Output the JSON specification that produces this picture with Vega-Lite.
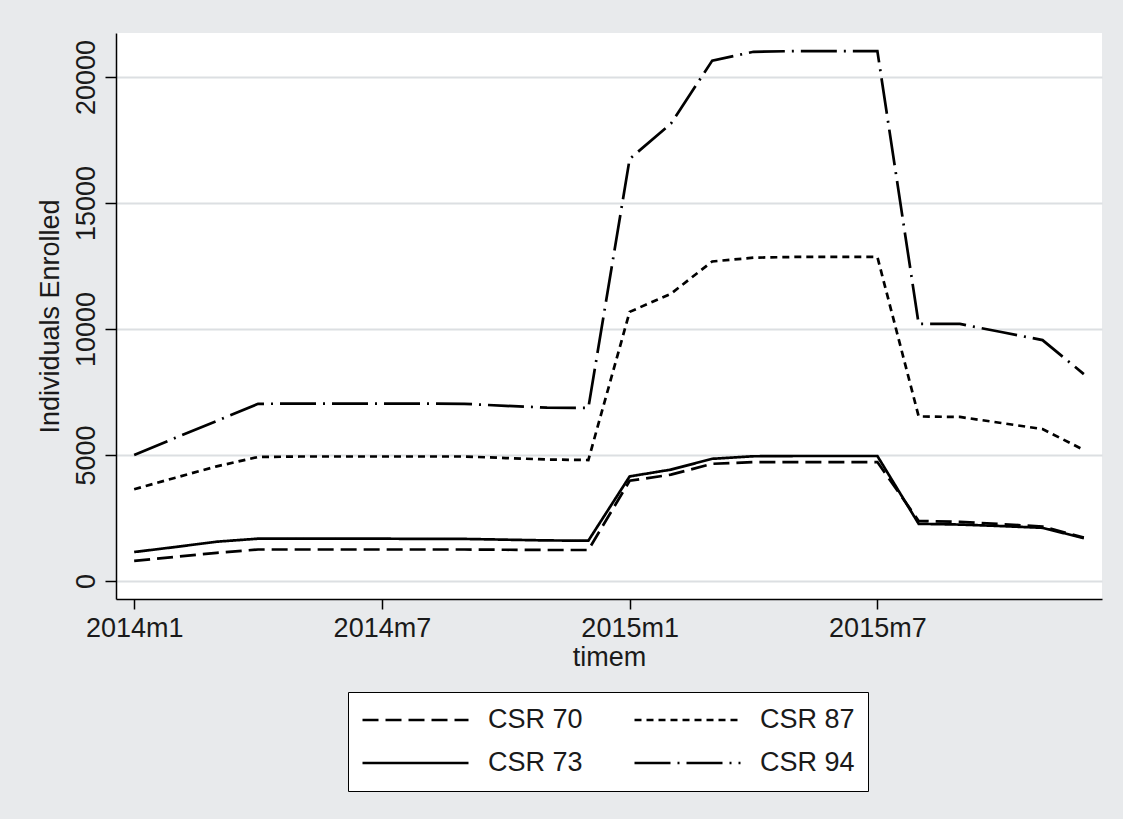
{
  "$schema": "https://vega.github.io/schema/vega-lite/v6.json",
  "width": 986,
  "height": 566,
  "autosize": {"type": "none"},
  "padding": {"left": 116, "top": 33, "right": 21, "bottom": 220},
  "background": "#e8eaec",
  "view": {"fill": "white", "stroke": null},
  "config": {"font": "Liberation Sans"},
  "data": {
    "values": [
      {"month": 0, "series": "CSR 70", "enrolled": 800},
      {"month": 1, "series": "CSR 70", "enrolled": 960},
      {"month": 2, "series": "CSR 70", "enrolled": 1120},
      {"month": 3, "series": "CSR 70", "enrolled": 1250},
      {"month": 4, "series": "CSR 70", "enrolled": 1250},
      {"month": 5, "series": "CSR 70", "enrolled": 1250},
      {"month": 6, "series": "CSR 70", "enrolled": 1250},
      {"month": 7, "series": "CSR 70", "enrolled": 1250},
      {"month": 8, "series": "CSR 70", "enrolled": 1250},
      {"month": 9, "series": "CSR 70", "enrolled": 1240},
      {"month": 10, "series": "CSR 70", "enrolled": 1230},
      {"month": 11, "series": "CSR 70", "enrolled": 1230},
      {"month": 12, "series": "CSR 70", "enrolled": 3980},
      {"month": 13, "series": "CSR 70", "enrolled": 4220},
      {"month": 14, "series": "CSR 70", "enrolled": 4650},
      {"month": 15, "series": "CSR 70", "enrolled": 4720},
      {"month": 16, "series": "CSR 70", "enrolled": 4720},
      {"month": 17, "series": "CSR 70", "enrolled": 4720},
      {"month": 18, "series": "CSR 70", "enrolled": 4720},
      {"month": 19, "series": "CSR 70", "enrolled": 2380},
      {"month": 20, "series": "CSR 70", "enrolled": 2350},
      {"month": 21, "series": "CSR 70", "enrolled": 2260},
      {"month": 22, "series": "CSR 70", "enrolled": 2160},
      {"month": 23, "series": "CSR 70", "enrolled": 1720},
      {"month": 0, "series": "CSR 87", "enrolled": 3640},
      {"month": 1, "series": "CSR 87", "enrolled": 4100},
      {"month": 2, "series": "CSR 87", "enrolled": 4550},
      {"month": 3, "series": "CSR 87", "enrolled": 4920},
      {"month": 4, "series": "CSR 87", "enrolled": 4940},
      {"month": 5, "series": "CSR 87", "enrolled": 4940},
      {"month": 6, "series": "CSR 87", "enrolled": 4940},
      {"month": 7, "series": "CSR 87", "enrolled": 4940},
      {"month": 8, "series": "CSR 87", "enrolled": 4940},
      {"month": 9, "series": "CSR 87", "enrolled": 4880},
      {"month": 10, "series": "CSR 87", "enrolled": 4820},
      {"month": 11, "series": "CSR 87", "enrolled": 4800},
      {"month": 12, "series": "CSR 87", "enrolled": 10680},
      {"month": 13, "series": "CSR 87", "enrolled": 11400},
      {"month": 14, "series": "CSR 87", "enrolled": 12680},
      {"month": 15, "series": "CSR 87", "enrolled": 12830},
      {"month": 16, "series": "CSR 87", "enrolled": 12860},
      {"month": 17, "series": "CSR 87", "enrolled": 12860},
      {"month": 18, "series": "CSR 87", "enrolled": 12860},
      {"month": 19, "series": "CSR 87", "enrolled": 6530},
      {"month": 20, "series": "CSR 87", "enrolled": 6510},
      {"month": 21, "series": "CSR 87", "enrolled": 6270},
      {"month": 22, "series": "CSR 87", "enrolled": 6030},
      {"month": 23, "series": "CSR 87", "enrolled": 5200},
      {"month": 0, "series": "CSR 73", "enrolled": 1150},
      {"month": 1, "series": "CSR 73", "enrolled": 1350},
      {"month": 2, "series": "CSR 73", "enrolled": 1560},
      {"month": 3, "series": "CSR 73", "enrolled": 1680},
      {"month": 4, "series": "CSR 73", "enrolled": 1680},
      {"month": 5, "series": "CSR 73", "enrolled": 1680},
      {"month": 6, "series": "CSR 73", "enrolled": 1680},
      {"month": 7, "series": "CSR 73", "enrolled": 1670},
      {"month": 8, "series": "CSR 73", "enrolled": 1670},
      {"month": 9, "series": "CSR 73", "enrolled": 1640},
      {"month": 10, "series": "CSR 73", "enrolled": 1610},
      {"month": 11, "series": "CSR 73", "enrolled": 1600},
      {"month": 12, "series": "CSR 73", "enrolled": 4150},
      {"month": 13, "series": "CSR 73", "enrolled": 4420},
      {"month": 14, "series": "CSR 73", "enrolled": 4850},
      {"month": 15, "series": "CSR 73", "enrolled": 4950},
      {"month": 16, "series": "CSR 73", "enrolled": 4960},
      {"month": 17, "series": "CSR 73", "enrolled": 4960},
      {"month": 18, "series": "CSR 73", "enrolled": 4960},
      {"month": 19, "series": "CSR 73", "enrolled": 2270},
      {"month": 20, "series": "CSR 73", "enrolled": 2240},
      {"month": 21, "series": "CSR 73", "enrolled": 2180},
      {"month": 22, "series": "CSR 73", "enrolled": 2110},
      {"month": 23, "series": "CSR 73", "enrolled": 1700},
      {"month": 0, "series": "CSR 94", "enrolled": 5000},
      {"month": 1, "series": "CSR 94", "enrolled": 5680},
      {"month": 2, "series": "CSR 94", "enrolled": 6350},
      {"month": 3, "series": "CSR 94", "enrolled": 7030},
      {"month": 4, "series": "CSR 94", "enrolled": 7040},
      {"month": 5, "series": "CSR 94", "enrolled": 7040},
      {"month": 6, "series": "CSR 94", "enrolled": 7040},
      {"month": 7, "series": "CSR 94", "enrolled": 7040},
      {"month": 8, "series": "CSR 94", "enrolled": 7030},
      {"month": 9, "series": "CSR 94", "enrolled": 6950},
      {"month": 10, "series": "CSR 94", "enrolled": 6880},
      {"month": 11, "series": "CSR 94", "enrolled": 6870},
      {"month": 12, "series": "CSR 94", "enrolled": 16750},
      {"month": 13, "series": "CSR 94", "enrolled": 18150},
      {"month": 14, "series": "CSR 94", "enrolled": 20650},
      {"month": 15, "series": "CSR 94", "enrolled": 21000},
      {"month": 16, "series": "CSR 94", "enrolled": 21030},
      {"month": 17, "series": "CSR 94", "enrolled": 21030},
      {"month": 18, "series": "CSR 94", "enrolled": 21030},
      {"month": 19, "series": "CSR 94", "enrolled": 10200},
      {"month": 20, "series": "CSR 94", "enrolled": 10200},
      {"month": 21, "series": "CSR 94", "enrolled": 9880},
      {"month": 22, "series": "CSR 94", "enrolled": 9560},
      {"month": 23, "series": "CSR 94", "enrolled": 8210}
    ]
  },
  "mark": {"type": "line", "color": "black", "strokeWidth": 2.7, "clip": true},
  "encoding": {
    "x": {
      "field": "month",
      "type": "quantitative",
      "scale": {"domain": [-0.44, 23.44], "nice": false, "zero": false},
      "axis": {
        "values": [0, 6, 12, 18],
        "labelExpr": "(2014 + floor(datum.value / 12)) + 'm' + (datum.value % 12 + 1)",
        "title": "timem",
        "grid": false,
        "domainColor": "black",
        "domainWidth": 1.5,
        "tickColor": "black",
        "tickWidth": 1.5,
        "tickSize": 10,
        "labelFontSize": 27,
        "labelColor": "#1a1a1a",
        "labelPadding": 6,
        "labelFlush": false,
        "titleFontSize": 27,
        "titleFontWeight": "normal",
        "titleColor": "#1a1a1a",
        "titlePadding": 3
      }
    },
    "y": {
      "field": "enrolled",
      "type": "quantitative",
      "scale": {"domain": [-714, 21746], "nice": false, "zero": false},
      "axis": {
        "values": [0, 5000, 10000, 15000, 20000],
        "format": "d",
        "title": "Individuals Enrolled",
        "grid": true,
        "gridColor": "#dcdfe2",
        "gridWidth": 2,
        "domainColor": "black",
        "domainWidth": 1.5,
        "tickColor": "black",
        "tickWidth": 1.5,
        "tickSize": 11,
        "labelAngle": -90,
        "labelAlign": "center",
        "labelBaseline": "bottom",
        "labelFontSize": 27,
        "labelColor": "#1a1a1a",
        "labelPadding": 5,
        "labelFlush": false,
        "titleFontSize": 27,
        "titleFontWeight": "normal",
        "titleColor": "#1a1a1a",
        "titlePadding": 8
      }
    },
    "strokeDash": {
      "field": "series",
      "type": "nominal",
      "scale": {
        "domain": ["CSR 70", "CSR 87", "CSR 73", "CSR 94"],
        "range": [[16, 7], [7, 5], [1, 0], [36, 7, 2, 7]]
      },
      "legend": {
        "title": null,
        "orient": "none",
        "legendX": 232,
        "legendY": 659,
        "columns": 2,
        "direction": "horizontal",
        "symbolType": "stroke",
        "symbolSize": 11236,
        "symbolStrokeWidth": 2.7,
        "symbolStrokeColor": "black",
        "symbolOffset": 0,
        "clipHeight": 30,
        "labelFontSize": 27,
        "labelColor": "#1a1a1a",
        "labelOffset": 18,
        "columnPadding": 50,
        "rowPadding": 13,
        "padding": 13,
        "fillColor": "white",
        "strokeColor": "black"
      }
    }
  }
}
